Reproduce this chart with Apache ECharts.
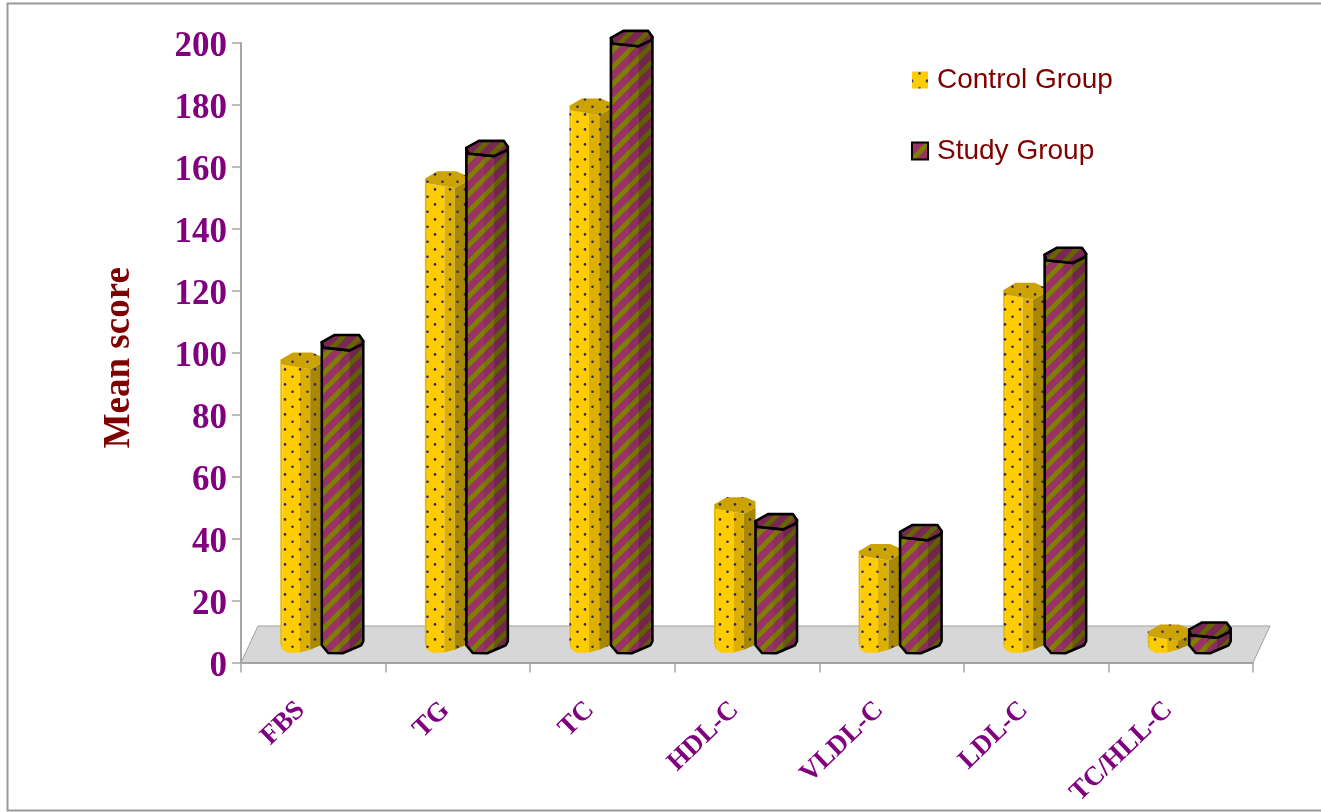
<!DOCTYPE html>
<html>
<head>
<meta charset="utf-8">
<title>Mean score by lipid and glucose measure</title>
<script src="https://cdn.jsdelivr.net/npm/echarts@6/dist/echarts.min.js"></script>
<style>
  html, body { margin: 0; padding: 0; background: #fff; overflow: hidden; }
  #chart { width: 1321px; height: 812px; }
</style>
</head>
<body>
<div id="chart"></div>
<script>
// Measures and group means
const categories = ['FBS', 'TG', 'TC', 'HDL-C', 'VLDL-C', 'LDL-C', 'TC/HLL-C'];
const controlValues = [91.5, 150, 173.5, 44.8, 29.7, 114, 3.7];
const studyValues = [97.3, 160, 195.5, 39.5, 36, 125.5, 4.5];
const yTicks = { min: 0, max: 200, interval: 20 };

// Depth of the floor plane, in pixels; columns stand halfway back on it
const FLOOR_DX = 17, FLOOR_DY = 36.5;
const BAR_WIDTH_RATIO = 0.287;

// Tiled fills
function dotTile(base) {
  const c = document.createElement('canvas');
  c.width = 15; c.height = 15;
  const g = c.getContext('2d');
  if (base) { g.fillStyle = base; g.fillRect(0, 0, 15, 15); }
  g.fillStyle = '#2b2b6b';
  [[7.5, 1.8], [0, 9.4], [15, 9.4]].forEach(p => {
    g.beginPath(); g.arc(p[0], p[1], 1.3, 0, Math.PI * 2); g.fill();
  });
  return c;
}
function stripeTile() {
  const s = 17;
  const c = document.createElement('canvas');
  c.width = s; c.height = s;
  const g = c.getContext('2d');
  g.fillStyle = '#993366';
  g.fillRect(0, 0, s, s);
  g.strokeStyle = '#808000';
  g.lineWidth = 4.8;
  [-s, 0, s].forEach(o => {
    g.beginPath(); g.moveTo(o - 2, s + 2); g.lineTo(o + s + 2, -2); g.stroke();
  });
  return c;
}
const dots = { image: dotTile(null), repeat: 'repeat' };
const dotsOnYellow = { image: dotTile('#FFCC00'), repeat: 'repeat' };
const stripes = { image: stripeTile(), repeat: 'repeat' };

// Column outlines as [fraction of width, pixel offset from the cap or base centre]
const shapes = {
  control: {
    cap: [[0, -1], [0.30, -8.3], [0.76, -8.3], [1, -4], [0.99, 2], [0.72, 8.3], [0.02, 3.3]],
    front: [[0, -1], [0.02, 3.3], [0.72, 8.3], [0.99, 2], [1, -4]],
    base: [[0, -1], [0.04, 5], [0.17, 8.5], [0.45, 8.5], [0.72, 5.5], [1, 0.5]],
    facets: [[0, 0.05, '#E8BA08'], [0.05, 0.47, '#FFCC00'], [0.47, 0.72, '#DDB000'], [0.72, 1, '#A98800']]
  },
  study: {
    cap: [[0, -0.8], [0.30, -7.8], [0.90, -7.8], [1, -1.8], [0.97, 1.5], [0.67, 7.5], [0.04, 4.8]],
    front: [[0, -0.8], [0.04, 4.8], [0.67, 7.5], [0.97, 1.5], [1, -1.8]],
    base: [[0, 1], [0.03, 2.5], [0.16, 8.8], [0.5, 9], [0.95, 1], [1, -3]],
    facets: [[0.43, 0.67, 0.08], [0.67, 0.96, 0.25], [0.96, 1, 0.1]]
  }
};

function profileY(profile, f) {
  for (let i = 1; i < profile.length; i++) {
    const a = profile[i - 1], b = profile[i];
    if (f <= b[0]) return a[1] + (b[1] - a[1]) * (f - a[0]) / ((b[0] - a[0]) || 1);
  }
  return profile[profile.length - 1][1];
}
function span(profile, f1, f2) {
  const inner = profile.filter(p => p[0] > f1 && p[0] < f2);
  return [[f1, profileY(profile, f1)], ...inner, [f2, profileY(profile, f2)]];
}

function renderColumn(kind) {
  const shape = shapes[kind];
  return function (params, api) {
    const i = api.value(0);
    const band = api.size([1, 0])[0];
    const w = band * BAR_WIDTH_RATIO;
    const top = api.coord([i, api.value(1)]);
    const zero = api.coord([i, 0]);
    const cx = top[0] + FLOOR_DX / 2;
    const x0 = kind === 'control' ? cx - w : cx;
    const capY = top[1] - FLOOR_DY / 2;
    const baseY = zero[1] - FLOOR_DY / 2;
    const at = y0 => p => [x0 + p[0] * w, y0 + p[1]];
    const facetPoints = (f1, f2) => [
      ...span(shape.front, f1, f2).map(at(capY)),
      ...span(shape.base, f1, f2).reverse().map(at(baseY))
    ];
    const body = facetPoints(0, 1);
    const children = [];
    if (kind === 'control') {
      shape.facets.forEach(facet => {
        children.push({ type: 'polygon', shape: { points: facetPoints(facet[0], facet[1]) }, style: { fill: facet[2] } });
      });
      children.push({ type: 'polygon', shape: { points: body }, style: { fill: dots } });
    } else {
      children.push({ type: 'polygon', shape: { points: body }, style: { fill: stripes } });
      shape.facets.forEach(facet => {
        children.push({ type: 'polygon', shape: { points: facetPoints(facet[0], facet[1]) }, style: { fill: 'rgba(0,0,0,' + facet[2] + ')' } });
      });
    }
    const capPoints = shape.cap.map(at(capY));
    if (kind === 'control') {
      children.push({ type: 'polygon', shape: { points: capPoints }, style: { fill: '#CCA300' } });
      children.push({ type: 'polygon', shape: { points: capPoints }, style: { fill: dots } });
    } else {
      const outline = { stroke: '#000', lineWidth: 2.6, lineJoin: 'round' };
      children.push({ type: 'polygon', shape: { points: body }, style: { fill: 'none', ...outline } });
      children.push({ type: 'polygon', shape: { points: capPoints }, style: { fill: stripes, ...outline } });
      children.push({ type: 'polygon', shape: { points: capPoints }, style: { fill: 'rgba(0,0,0,0.2)' } });
    }
    return { type: 'group', children };
  };
}

function renderFloor(params) {
  const r = params.coordSys;
  const b = r.y + r.height;
  return {
    type: 'polygon',
    shape: { points: [[r.x, b], [r.x + r.width, b], [r.x + r.width + FLOOR_DX, b - FLOOR_DY], [r.x + FLOOR_DX, b - FLOOR_DY]] },
    style: { fill: '#D7D7D7', stroke: '#A0A0A0', lineWidth: 1 }
  };
}

const axisGray = '#A6A6A6';
const serif = '"Liberation Serif", "Times New Roman", serif';
const chart = echarts.init(document.getElementById('chart'), null, { renderer: 'canvas' });
chart.setOption({
  animation: false,
  backgroundColor: '#fff',
  graphic: [{
    type: 'rect', z: -1,
    shape: { x: 7.5, y: 3.5, width: 1340, height: 807 },
    style: { fill: 'none', stroke: '#999', lineWidth: 2 }
  }],
  grid: { left: 241, top: 43, width: 1012, height: 619.5 },
  legend: {
    left: 906, top: 61, orient: 'vertical', itemWidth: 16, itemHeight: 17, itemGap: 43,
    selectedMode: false,
    textStyle: { color: '#800000', fontFamily: '"Liberation Sans", Arial, sans-serif', fontSize: 28, padding: [0, 0, 0, 4] },
    data: [
      { name: 'Control Group', icon: 'rect', itemStyle: { color: dotsOnYellow, borderWidth: 0 } },
      { name: 'Study Group', icon: 'rect', itemStyle: { color: stripes, borderColor: '#000', borderWidth: 2 } }
    ]
  },
  xAxis: {
    type: 'category',
    data: categories,
    axisLine: { lineStyle: { color: axisGray, width: 2 } },
    axisTick: { show: true, length: 10, lineStyle: { color: axisGray, width: 1.5 } },
    axisLabel: { rotate: 44, interval: 0, margin: 32, padding: [0, 17, 0, 0], color: '#800080', fontFamily: serif, fontWeight: 'bold', fontSize: 27 }
  },
  yAxis: {
    type: 'value',
    min: yTicks.min, max: yTicks.max, interval: yTicks.interval,
    name: 'Mean score', nameLocation: 'middle', nameGap: 103,
    nameTextStyle: { color: '#800000', fontFamily: serif, fontWeight: 'bold', fontSize: 37, padding: [0, 10, 0, 0] },
    splitLine: { show: false },
    axisLine: { show: true, lineStyle: { color: axisGray, width: 2 } },
    axisTick: { show: true, length: 9, lineStyle: { color: axisGray, width: 1.5 } },
    axisLabel: {
      margin: 14,
      formatter: '{s|}\n{t|{value}}',
      rich: {
        s: { lineHeight: 8, fontSize: 1 },
        t: { color: '#800080', fontFamily: serif, fontWeight: 'bold', fontSize: 35, lineHeight: 36 }
      }
    }
  },
  series: [
    { type: 'custom', name: 'floor', z: 1, silent: true, renderItem: renderFloor, data: [[0, 0]], encode: { x: 0, y: 1 } },
    { type: 'custom', name: 'Control Group', z: 2, renderItem: renderColumn('control'), itemStyle: { color: '#FFCC00' }, data: controlValues.map((v, i) => [i, v]), encode: { x: 0, y: 1 } },
    { type: 'custom', name: 'Study Group', z: 3, renderItem: renderColumn('study'), itemStyle: { color: stripes }, data: studyValues.map((v, i) => [i, v]), encode: { x: 0, y: 1 } }
  ]
});
</script>
</body>
</html>
